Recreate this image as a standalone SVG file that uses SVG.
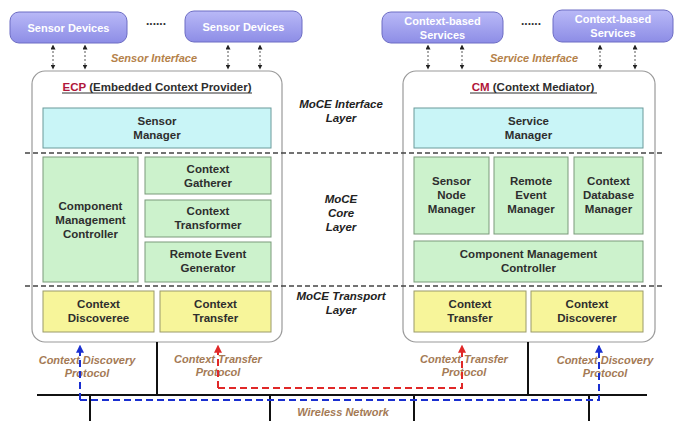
<svg xmlns="http://www.w3.org/2000/svg" width="685" height="421" viewBox="0 0 685 421">
  <defs>
    <linearGradient id="dev" x1="0" y1="0" x2="0" y2="1">
      <stop offset="0" stop-color="#b9b9f7"/>
      <stop offset="1" stop-color="#8d8de6"/>
    </linearGradient>
    <marker id="ah" viewBox="0 0 6 6" refX="3" refY="3" markerWidth="5" markerHeight="5" orient="auto-start-reverse">
      <path d="M0,0 L6,3 L0,6 z" fill="#222"/>
    </marker>
    <marker id="ahBlue" viewBox="0 0 6 6" refX="5" refY="3" markerWidth="4" markerHeight="4" orient="auto">
      <path d="M0,0 L6,3 L0,6 z" fill="#1a2fd0"/>
    </marker>
    <marker id="ahRed" viewBox="0 0 6 6" refX="5" refY="3" markerWidth="4" markerHeight="4" orient="auto">
      <path d="M0,0 L6,3 L0,6 z" fill="#e02828"/>
    </marker>
  </defs>
  <style>
    text { font-family: "Liberation Sans", Arial, sans-serif; font-weight: bold; }
    .dev { fill: url(#dev); stroke: #6d6dc4; stroke-width: 1; }
    .devt { fill: #ffffff; font-size: 11px; text-anchor: middle; }
    .outer { fill: #ffffff; stroke: #9a9a9a; stroke-width: 1.2; }
    .cyan { fill: #c9f5f7; stroke: #6a9a9a; stroke-width: 1; }
    .green { fill: #ccf2cc; stroke: #7a9a7a; stroke-width: 1; }
    .yellow { fill: #f7f59a; stroke: #9a9a6a; stroke-width: 1; }
    .bt { fill: #2e2e2e; font-size: 11.5px; text-anchor: middle; }
    .title { fill: #2e2e2e; font-size: 11.5px; text-anchor: middle; }
    .layer { fill: #222; font-size: 11.5px; font-style: italic; text-anchor: middle; }
    .iface { fill: #b5824a; font-size: 11px; font-style: italic; text-anchor: middle; }
    .proto { fill: #a47a55; font-size: 11px; font-style: italic; text-anchor: middle; }
    .sep { stroke: #444; stroke-width: 1.3; stroke-dasharray: 5 3; fill: none; }
    .link { stroke: #555; stroke-width: 1; stroke-dasharray: 2 2; fill: none; }
    .wire { stroke: #111; stroke-width: 2; fill: none; }
    .blue { stroke: #1a2fd0; stroke-width: 2; stroke-dasharray: 7 4; fill: none; }
    .red { stroke: #e02828; stroke-width: 2; stroke-dasharray: 7 4; fill: none; }
    .dots { fill: #333; font-size: 12px; text-anchor: middle; }
  </style>

  <!-- Top: sensor devices and services -->
  <g id="sensor-devices-1">
    <rect class="dev" x="10" y="12" width="117" height="31" rx="9"/>
    <text class="devt" x="68.5" y="31.5">Sensor Devices</text>
  </g>
  <text class="dots" x="156" y="25">......</text>
  <g id="sensor-devices-2">
    <rect class="dev" x="185" y="11" width="117" height="31" rx="9"/>
    <text class="devt" x="243.5" y="31">Sensor Devices</text>
  </g>
  <g id="services-1">
    <rect class="dev" x="382" y="12" width="121" height="31" rx="9"/>
    <text class="devt" x="442.5" y="24.5">Context-based</text>
    <text class="devt" x="442.5" y="38.5">Services</text>
  </g>
  <text class="dots" x="531" y="25">......</text>
  <g id="services-2">
    <rect class="dev" x="553" y="10" width="120" height="32" rx="9"/>
    <text class="devt" x="613" y="23">Context-based</text>
    <text class="devt" x="613" y="37">Services</text>
  </g>

  <text class="iface" x="154" y="62">Sensor Interface</text>
  <text class="iface" x="534" y="62">Service Interface</text>

  <!-- ECP -->
  <g id="ecp">
    <rect class="outer" x="32" y="71" width="250" height="271" rx="13"/>
    <text class="title" x="157" y="91"><tspan fill="#b0163a">ECP</tspan> (Embedded Context Provider)</text>
    <line x1="62" y1="93" x2="252" y2="93" stroke="#2e2e2e" stroke-width="1"/>
  </g>
  <g id="sensor-manager">
    <rect class="cyan" x="43" y="108" width="228" height="40"/>
    <text class="bt" x="157" y="125">Sensor</text>
    <text class="bt" x="157" y="139">Manager</text>
  </g>
  <g id="ecp-cmc">
    <rect class="green" x="43" y="157" width="95" height="125"/>
    <text class="bt" x="90.5" y="210">Component</text>
    <text class="bt" x="90.5" y="224">Management</text>
    <text class="bt" x="90.5" y="238">Controller</text>
  </g>
  <g id="context-gatherer">
    <rect class="green" x="145" y="157" width="126" height="37"/>
    <text class="bt" x="208" y="173">Context</text>
    <text class="bt" x="208" y="187">Gatherer</text>
  </g>
  <g id="context-transformer">
    <rect class="green" x="145" y="200" width="126" height="37"/>
    <text class="bt" x="208" y="215">Context</text>
    <text class="bt" x="208" y="229">Transformer</text>
  </g>
  <g id="remote-event-generator">
    <rect class="green" x="145" y="242" width="126" height="40"/>
    <text class="bt" x="208" y="258">Remote Event</text>
    <text class="bt" x="208" y="272">Generator</text>
  </g>
  <g id="context-discoveree">
    <rect class="yellow" x="43" y="291" width="111" height="41"/>
    <text class="bt" x="98.5" y="308">Context</text>
    <text class="bt" x="98.5" y="322">Discoveree</text>
  </g>
  <g id="ecp-context-transfer">
    <rect class="yellow" x="160" y="291" width="111" height="41"/>
    <text class="bt" x="215.5" y="308">Context</text>
    <text class="bt" x="215.5" y="322">Transfer</text>
  </g>

  <!-- CM -->
  <g id="cm">
    <rect class="outer" x="403" y="71" width="252" height="271" rx="13"/>
    <text class="title" x="533" y="91"><tspan fill="#b0163a">CM</tspan> (Context Mediator)</text>
    <line x1="470" y1="93" x2="597" y2="93" stroke="#2e2e2e" stroke-width="1"/>
  </g>
  <g id="service-manager">
    <rect class="cyan" x="414" y="108" width="229" height="40"/>
    <text class="bt" x="528.5" y="125">Service</text>
    <text class="bt" x="528.5" y="139">Manager</text>
  </g>
  <g id="sensor-node-manager">
    <rect class="green" x="414" y="157" width="75" height="77"/>
    <text class="bt" x="451.5" y="185">Sensor</text>
    <text class="bt" x="451.5" y="199">Node</text>
    <text class="bt" x="451.5" y="213">Manager</text>
  </g>
  <g id="remote-event-manager">
    <rect class="green" x="494" y="157" width="74" height="77"/>
    <text class="bt" x="531" y="185">Remote</text>
    <text class="bt" x="531" y="199">Event</text>
    <text class="bt" x="531" y="213">Manager</text>
  </g>
  <g id="context-database-manager">
    <rect class="green" x="574" y="157" width="69" height="77"/>
    <text class="bt" x="608.5" y="185">Context</text>
    <text class="bt" x="608.5" y="199">Database</text>
    <text class="bt" x="608.5" y="213">Manager</text>
  </g>
  <g id="cm-cmc">
    <rect class="green" x="414" y="241" width="229" height="41"/>
    <text class="bt" x="528.5" y="258">Component Management</text>
    <text class="bt" x="528.5" y="272">Controller</text>
  </g>
  <g id="cm-context-transfer">
    <rect class="yellow" x="414" y="291" width="112" height="41"/>
    <text class="bt" x="470" y="308">Context</text>
    <text class="bt" x="470" y="322">Transfer</text>
  </g>
  <g id="context-discoverer">
    <rect class="yellow" x="531" y="291" width="112" height="41"/>
    <text class="bt" x="587" y="308">Context</text>
    <text class="bt" x="587" y="322">Discoverer</text>
  </g>

  <!-- Layer boundaries and labels -->
  <line class="sep" x1="25" y1="153" x2="662" y2="153"/>
  <line class="sep" x1="25" y1="286" x2="662" y2="286"/>
  <text class="layer" x="341" y="108">MoCE Interface</text>
  <text class="layer" x="341" y="122">Layer</text>
  <text class="layer" x="341" y="203">MoCE</text>
  <text class="layer" x="341" y="217">Core</text>
  <text class="layer" x="341" y="231">Layer</text>
  <text class="layer" x="341" y="300">MoCE Transport</text>
  <text class="layer" x="341" y="314">Layer</text>

  <text class="proto" x="87" y="364">Context Discovery</text>
  <text class="proto" x="87" y="377">Protocol</text>
  <text class="proto" x="218" y="363">Context Transfer</text>
  <text class="proto" x="218" y="376">Protocol</text>
  <text class="proto" x="464" y="363">Context Transfer</text>
  <text class="proto" x="464" y="376">Protocol</text>
  <text class="proto" x="605" y="364">Context Discovery</text>
  <text class="proto" x="605" y="377">Protocol</text>
  <text class="proto" x="343" y="416">Wireless Network</text>

  <!-- Connectors -->
  <g id="connectors">
    <line class="link" x1="53" y1="47" x2="53" y2="67" marker-start="url(#ah)" marker-end="url(#ah)"/>
    <line class="link" x1="85" y1="47" x2="85" y2="67" marker-start="url(#ah)" marker-end="url(#ah)"/>
    <line class="link" x1="228" y1="47" x2="228" y2="67" marker-start="url(#ah)" marker-end="url(#ah)"/>
    <line class="link" x1="260" y1="47" x2="260" y2="67" marker-start="url(#ah)" marker-end="url(#ah)"/>
    <line class="link" x1="428" y1="47" x2="428" y2="67" marker-start="url(#ah)" marker-end="url(#ah)"/>
    <line class="link" x1="462" y1="47" x2="462" y2="67" marker-start="url(#ah)" marker-end="url(#ah)"/>
    <line class="link" x1="600" y1="47" x2="600" y2="67" marker-start="url(#ah)" marker-end="url(#ah)"/>
    <line class="link" x1="635" y1="47" x2="635" y2="67" marker-start="url(#ah)" marker-end="url(#ah)"/>

    <!-- wireless network bus -->
    <line class="wire" x1="37" y1="395" x2="647" y2="395"/>
    <line class="wire" x1="157" y1="342" x2="157" y2="395"/>
    <line class="wire" x1="528" y1="342" x2="528" y2="395"/>
    <line class="wire" x1="90" y1="395" x2="90" y2="421"/>
    <line class="wire" x1="270" y1="395" x2="270" y2="421"/>
    <line class="wire" x1="414" y1="395" x2="414" y2="421"/>
    <line class="wire" x1="589" y1="395" x2="589" y2="421"/>

    <!-- protocol paths -->
    <path class="red" d="M218,388 H462 V346" marker-end="url(#ahRed)"/>
    <path class="red" d="M218,388 V346" marker-end="url(#ahRed)"/>
    <path class="blue" d="M80,400 H599 V346" marker-end="url(#ahBlue)"/>
    <path class="blue" d="M80,400 V346" marker-end="url(#ahBlue)"/>
  </g>
</svg>
